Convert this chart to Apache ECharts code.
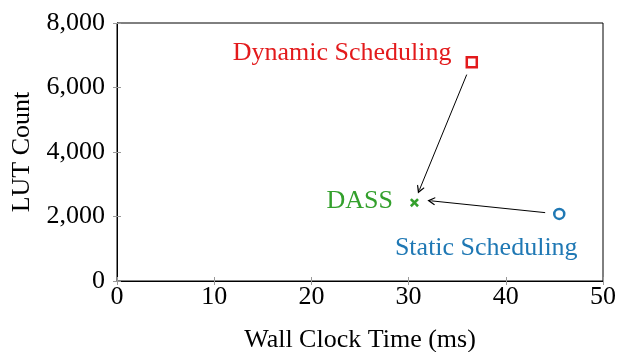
<!DOCTYPE html>
<html>
<head>
<meta charset="utf-8">
<script src="https://cdn.jsdelivr.net/npm/echarts@6/dist/echarts.min.js"></script>
<style>html,body{margin:0;padding:0;background:#fff}#c{width:623px;height:352px}</style>
</head>
<body>
<div id="c"></div>
<script>
const methods = ['Dynamic Scheduling', 'DASS', 'Static Scheduling'];
const wallClockMs = [36.5, 30.6, 45.5];
const lutCount = [6780, 2430, 2080];
const colors = ['#e31a1c', '#33a02c', '#1f78b4'];
// arrows: [x1, y1, x2, y2] in data units
const arrowDynToDass = [35.98, 6400, 31.12, 2830];
const arrowStaticToDass = [44.05, 2120, 32.34, 2485];
const xTicks = [0, 10, 20, 30, 40, 50];
const yTicks = [0, 2000, 4000, 6000, 8000];

const FONT = 'Liberation Serif';
const FS = 26;
const xMark = 'path://M0,2 L2,0 L5,3 L8,0 L10,2 L7,5 L10,8 L8,10 L5,7 L2,10 L0,8 L3,5 Z';
const arrowHead = 'path://M5,0 L10,9 L9,10 L5,3.5 L1,10 L0,9 Z';

const labelCfg = [
  {show: true, position: 'left', distance: 14, offset: [0, -9]},
  {show: true, position: 'left', distance: 17, offset: [0, -1]},
  {show: true, position: 'inside', offset: [-73, 34]}
];
const symbols = ['rect', xMark, 'circle'];
const sizes = [10, 9, 10];

const series = methods.map((m, i) => ({
  type: 'scatter',
  name: m,
  symbol: symbols[i],
  symbolSize: sizes[i],
  itemStyle: i === 1 ? {color: colors[i], opacity: 1} : {color: '#fff', borderColor: colors[i], borderWidth: 2.5, opacity: 1},
  label: Object.assign({formatter: m, color: colors[i], fontFamily: FONT, fontSize: FS, opacity: 1}, labelCfg[i]),
  data: [[wallClockMs[i], lutCount[i]]],
  z: 5
}));

series.push({
  type: 'scatter',
  data: [],
  silent: true,
  markLine: {
    silent: true,
    symbol: ['none', arrowHead],
    symbolSize: 8,
    label: {show: false},
    lineStyle: {color: '#000', width: 1, type: 'solid', opacity: 1},
    itemStyle: {color: '#000', opacity: 1},
    animation: false,
    data: [
      [{coord: [arrowDynToDass[0], arrowDynToDass[1]]}, {coord: [arrowDynToDass[2], arrowDynToDass[3]]}],
      [{coord: [arrowStaticToDass[0], arrowStaticToDass[1]]}, {coord: [arrowStaticToDass[2], arrowStaticToDass[3]]}]
    ]
  }
});

const fmtNum = v => String(v).replace(/\B(?=(\d{3})+(?!\d))/g, ',');
const tickStyle = {show: true, inside: true, length: 4, lineStyle: {color: '#999', width: 1}};

const chart = echarts.init(document.getElementById('c'));
chart.setOption({
  animation: false,
  backgroundColor: '#fff',
  grid: {left: 117, right: 20, top: 23, bottom: 71, outerBoundsMode: 'none', containLabel: false, show: true, borderColor: '#000', borderWidth: 1, backgroundColor: 'transparent'},
  xAxis: [{
    type: 'value', min: xTicks[0], max: xTicks[xTicks.length - 1], interval: 10,
    name: 'Wall Clock Time (ms)', nameLocation: 'middle', nameGap: 46,
    nameTextStyle: {fontFamily: FONT, fontSize: FS, color: '#000'},
    axisLine: {show: true, lineStyle: {color: '#000', width: 1}},
    axisTick: tickStyle,
    axisLabel: {fontFamily: FONT, fontSize: FS, color: '#000', margin: 3},
    splitLine: {show: false}
  }, {
    type: 'value', position: 'top', min: xTicks[0], max: xTicks[xTicks.length - 1], interval: 10,
    axisLine: {show: false}, axisTick: tickStyle, axisLabel: {show: false}, splitLine: {show: false}
  }],
  yAxis: [{
    type: 'value', min: yTicks[0], max: yTicks[yTicks.length - 1], interval: 2000,
    name: 'LUT Count', nameLocation: 'middle', nameGap: 78,
    nameTextStyle: {fontFamily: FONT, fontSize: FS, color: '#000'},
    axisLine: {show: true, lineStyle: {color: '#000', width: 1}},
    axisTick: tickStyle,
    axisLabel: {fontFamily: FONT, fontSize: FS, color: '#000', margin: 12, formatter: fmtNum},
    splitLine: {show: false}
  }, {
    type: 'value', position: 'right', min: yTicks[0], max: yTicks[yTicks.length - 1], interval: 2000,
    axisLine: {show: false}, axisTick: tickStyle, axisLabel: {show: false}, splitLine: {show: false}
  }],
  series: series
});
</script>
</body>
</html>
